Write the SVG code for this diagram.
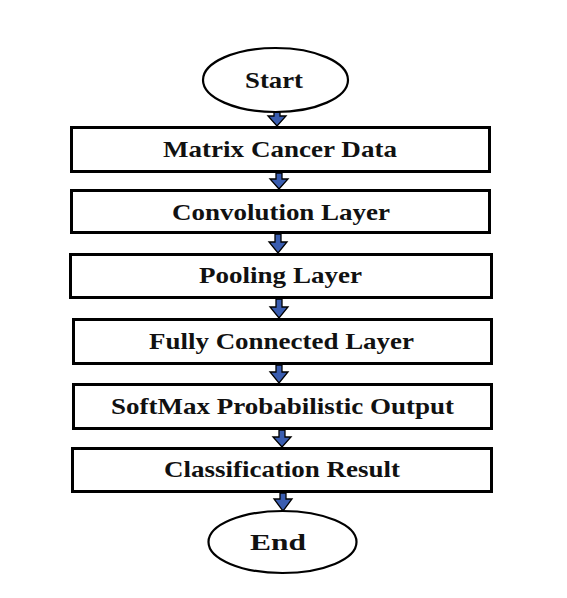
<svg xmlns="http://www.w3.org/2000/svg" width="567" height="598" viewBox="0 0 567 598">
<style>
.box{fill:#fff;stroke:#000;stroke-width:3}
.term{fill:#fff;stroke:#000;stroke-width:2.2}
.lbl{font-family:"Liberation Serif","Times New Roman",serif;font-weight:bold;font-size:23px;fill:#111;text-anchor:middle}
.big{font-size:24px}
.arr{fill:#3a5db0;stroke:#000;stroke-width:1.3;stroke-linejoin:miter}
</style>
<rect width="567" height="598" fill="#fff"/>
<g id="connectors">
<polygon class="arr" points="274,112 280,112 280,116 286,116 277,126 268,116 274,116"/>
<polygon class="arr" points="276,173 282,173 282,179 288,179 279,189 270,179 276,179"/>
<polygon class="arr" points="275,234 281,234 281,242 287,242 278,253 269,242 275,242"/>
<polygon class="arr" points="276,299 282,299 282,307 288,307 279,318 270,307 276,307"/>
<polygon class="arr" points="276,365 282,365 282,372 288,372 279,383 270,372 276,372"/>
<polygon class="arr" points="279,430 285,430 285,437 291,437 282,447 273,437 279,437"/>
<polygon class="arr" points="280,493 286,493 286,499 292,499 283,511 274,499 280,499"/>
</g>
<g id="start">
<ellipse class="term" cx="275.5" cy="80" rx="72.5" ry="32"/>
<text class="lbl big" x="274" y="88" textLength="58" lengthAdjust="spacingAndGlyphs">Start</text>
</g>
<g id="matrix">
<rect class="box" x="71.5" y="127.5" width="418" height="44"/>
<text class="lbl" x="280" y="157" textLength="234" lengthAdjust="spacingAndGlyphs">Matrix Cancer Data</text>
</g>
<g id="conv">
<rect class="box" x="71.5" y="190.5" width="418" height="42"/>
<text class="lbl" x="281" y="220" textLength="218" lengthAdjust="spacingAndGlyphs">Convolution Layer</text>
</g>
<g id="pool">
<rect class="box" x="70.5" y="254.5" width="421" height="43"/>
<text class="lbl" x="280.5" y="283" textLength="163" lengthAdjust="spacingAndGlyphs">Pooling Layer</text>
</g>
<g id="fc">
<rect class="box" x="73.5" y="319.5" width="418" height="44"/>
<text class="lbl" x="281.5" y="349" textLength="265" lengthAdjust="spacingAndGlyphs">Fully Connected Layer</text>
</g>
<g id="softmax">
<rect class="box" x="73.5" y="384.5" width="418" height="44"/>
<text class="lbl" x="282.5" y="414" textLength="343" lengthAdjust="spacingAndGlyphs">SoftMax Probabilistic Output</text>
</g>
<g id="result">
<rect class="box" x="72.5" y="448.5" width="419" height="43"/>
<text class="lbl" x="282" y="477" textLength="236" lengthAdjust="spacingAndGlyphs">Classification Result</text>
</g>
<g id="end">
<ellipse class="term" cx="282.5" cy="542" rx="74" ry="31"/>
<text class="lbl big" x="278" y="550" textLength="56" lengthAdjust="spacingAndGlyphs">End</text>
</g>
</svg>
